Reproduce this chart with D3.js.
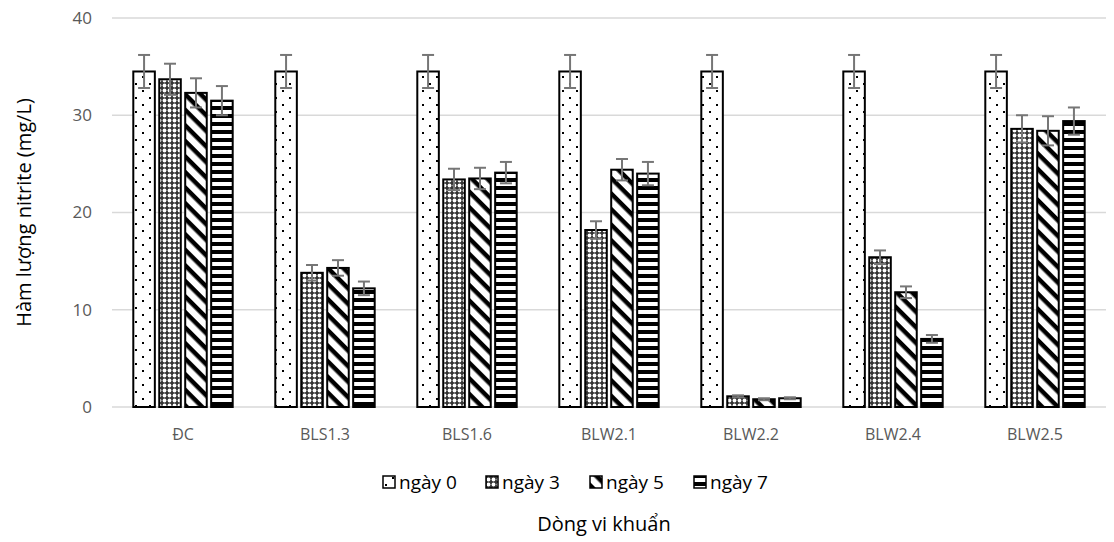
<!DOCTYPE html>
<html>
<head>
<meta charset="utf-8">
<script src="https://cdn.jsdelivr.net/npm/d3@7"></script>
<style>
  body { margin: 0; background: #fff; }
  svg { display: block; font-family: "Open Sans", "Noto Sans", sans-serif; }
</style>
</head>
<body>
<div id="chart"></div>
<script>
// Data
const categories = ['ĐC', 'BLS1.3', 'BLS1.6', 'BLW2.1', 'BLW2.2', 'BLW2.4', 'BLW2.5'];
const seriesNames = ['ngày 0', 'ngày 3', 'ngày 5', 'ngày 7'];
const day0 = [34.5, 34.5, 34.5, 34.5, 34.5, 34.5, 34.5];
const day3 = [33.7, 13.8, 23.4, 18.2, 1.1, 15.4, 28.6];
const day5 = [32.3, 14.3, 23.5, 24.4, 0.8, 11.8, 28.4];
const day7 = [31.5, 12.2, 24.1, 24.0, 0.9, 7.0, 29.4];
const err0 = [1.7, 1.7, 1.7, 1.7, 1.7, 1.7, 1.7];
const err3 = [1.6, 0.8, 1.1, 0.9, 0.1, 0.7, 1.4];
const err5 = [1.5, 0.8, 1.1, 1.1, 0.1, 0.6, 1.5];
const err7 = [1.5, 0.7, 1.1, 1.2, 0.1, 0.4, 1.4];
const yTicks = [0, 10, 20, 30, 40];

const values = [day0, day3, day5, day7];
const errors = [err0, err3, err5, err7];

const W = 1114, H = 542;
const margin = { top: 18, right: 8, bottom: 135, left: 112 };
const width = W - margin.left - margin.right;
const height = H - margin.top - margin.bottom;

const svg = d3.select('#chart').append('svg')
    .attr('width', W)
    .attr('height', H);

// Fill patterns
const defs = svg.append('defs');
const pDots = defs.append('pattern').attr('id', 'p0')
    .attr('patternUnits', 'userSpaceOnUse').attr('width', 14).attr('height', 14);
pDots.append('rect').attr('width', 14).attr('height', 14).attr('fill', '#fff');
pDots.append('rect').attr('x', 2).attr('y', 2).attr('width', 2).attr('height', 2).attr('fill', '#000');
pDots.append('rect').attr('x', 9).attr('y', 9).attr('width', 2).attr('height', 2).attr('fill', '#000');

const pCross = defs.append('pattern').attr('id', 'p1')
    .attr('patternUnits', 'userSpaceOnUse').attr('width', 5).attr('height', 5);
pCross.append('rect').attr('width', 5).attr('height', 5).attr('fill', '#333');
pCross.append('circle').attr('cx', 2.5).attr('cy', 2.5).attr('r', 1.9).attr('fill', '#fff');

const pDiag = defs.append('pattern').attr('id', 'p2')
    .attr('patternUnits', 'userSpaceOnUse').attr('width', 11).attr('height', 11)
    .attr('patternTransform', 'rotate(45)');
pDiag.append('rect').attr('width', 11).attr('height', 11).attr('fill', '#fff');
pDiag.append('rect').attr('width', 11).attr('height', 4.5).attr('fill', '#000');

const pHor = defs.append('pattern').attr('id', 'p3')
    .attr('patternUnits', 'userSpaceOnUse').attr('width', 8).attr('height', 8);
pHor.append('rect').attr('width', 8).attr('height', 8).attr('fill', '#fff');
pHor.append('rect').attr('y', 0).attr('width', 8).attr('height', 4).attr('fill', '#000');

const g = svg.append('g').attr('transform', `translate(${margin.left},${margin.top})`);

const x0 = d3.scaleBand().domain(categories).range([0, width]).paddingInner(0.3).paddingOuter(0.15);
const x1 = d3.scaleBand().domain(seriesNames).range([0, x0.bandwidth()]).paddingInner(0.17);
const y = d3.scaleLinear().domain([0, 40]).range([height, 0]);

// Gridlines
g.append('g')
    .selectAll('line')
    .data(yTicks)
    .join('line')
    .attr('x1', 0).attr('x2', width)
    .attr('y1', d => y(d)).attr('y2', d => y(d))
    .attr('stroke', '#d9d9d9').attr('stroke-width', 1.5);

// Y axis labels
g.append('g')
    .call(d3.axisLeft(y).tickValues(yTicks).tickSize(0).tickPadding(20))
    .call(a => a.select('.domain').remove())
    .call(a => a.attr('font-family', null).attr('font-size', null))
    .selectAll('text')
    .attr('fill', '#595959')
    .style('font-size', '17px');

// X axis labels
g.append('g')
    .attr('transform', `translate(0,${height})`)
    .call(d3.axisBottom(x0).tickSize(0).tickPadding(22))
    .call(a => a.select('.domain').remove())
    .call(a => a.attr('font-family', null).attr('font-size', null))
    .selectAll('text')
    .attr('fill', '#595959')
    .style('font-size', '16px');

// Bars
const flat = [];
categories.forEach((c, i) => {
    seriesNames.forEach((s, j) => {
        flat.push({ cat: c, s, j, v: values[j][i], e: errors[j][i] });
    });
});

const bars = g.append('g');
bars.selectAll('rect')
    .data(flat)
    .join('rect')
    .attr('x', d => x0(d.cat) + x1(d.s))
    .attr('y', d => y(d.v))
    .attr('width', x1.bandwidth())
    .attr('height', d => y(0) - y(d.v))
    .attr('fill', d => `url(#p${d.j})`)
    .attr('stroke', '#000')
    .attr('stroke-width', 2);

// Error bars
const eb = g.append('g').attr('stroke', '#767676').attr('stroke-width', 2).attr('fill', 'none');
const cap = 6;
flat.forEach(d => {
    const cx = x0(d.cat) + x1(d.s) + x1.bandwidth() / 2;
    const lo = y(Math.max(0, d.v - d.e)), hi = y(d.v + d.e);
    eb.append('line').attr('x1', cx).attr('x2', cx).attr('y1', lo).attr('y2', hi);
    eb.append('line').attr('x1', cx - cap).attr('x2', cx + cap).attr('y1', hi).attr('y2', hi);
    eb.append('line').attr('x1', cx - cap).attr('x2', cx + cap).attr('y1', lo).attr('y2', lo);
});

// Legend
const legendX = [383, 486, 590, 694];
const legend = svg.append('g').attr('transform', 'translate(0,482)');
seriesNames.forEach((s, j) => {
    const it = legend.append('g').attr('transform', `translate(${legendX[j]},0)`);
    it.append('rect').attr('x', 0).attr('y', -6).attr('width', 12).attr('height', 12)
        .attr('fill', `url(#p${j})`).attr('stroke', '#000').attr('stroke-width', 1.5);
    it.append('text').attr('x', 16).attr('y', 0).attr('dy', '0.35em')
        .style('font-size', '19px').attr('fill', '#000').text(s);
});

// Axis titles
svg.append('text')
    .attr('x', margin.left + width / 2 - 5).attr('y', 531)
    .attr('text-anchor', 'middle')
    .style('font-size', '20px').attr('fill', '#000')
    .text('Dòng vi khuẩn');

svg.append('text')
    .attr('transform', `translate(24,${margin.top + height / 2}) rotate(-90)`)
    .attr('text-anchor', 'middle').attr('dy', '0.35em')
    .style('font-size', '20px').attr('fill', '#000')
    .text('Hàm lượng nitrite (mg/L)');
</script>
</body>
</html>
